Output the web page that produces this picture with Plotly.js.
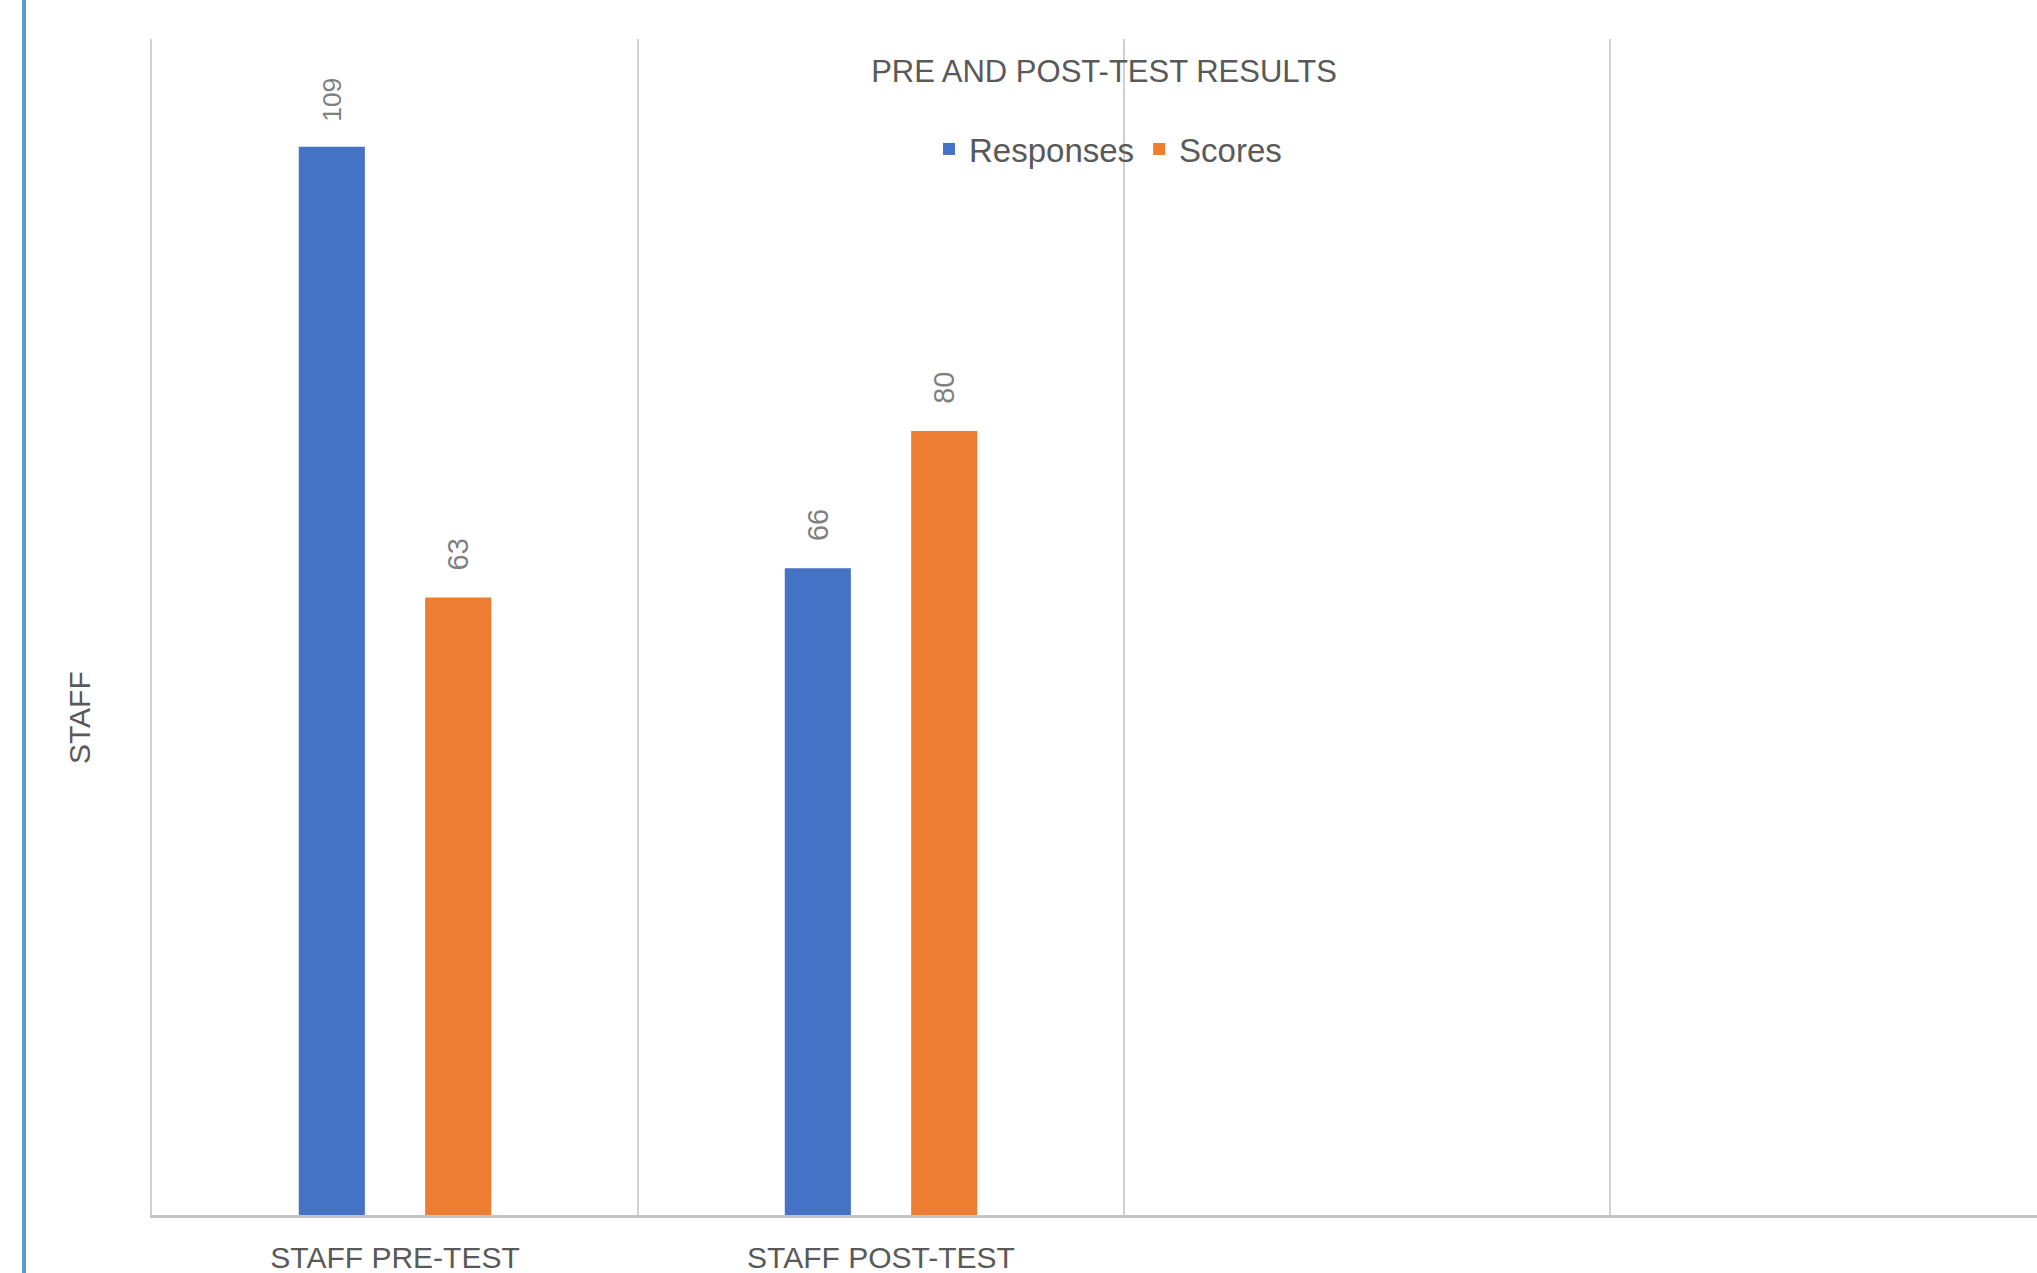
<!DOCTYPE html>
<html>
<head>
<meta charset="utf-8">
<script src="https://cdn.plot.ly/plotly-3.0.1.min.js"></script>
<style>
html,body{margin:0;padding:0;background:#fff;overflow:hidden;}
#chart{width:2037px;height:1273px;}
</style>
</head>
<body>
<div id="chart"></div>
<script>
const categories = ["STAFF PRE-TEST", "STAFF POST-TEST"];
const emptyCategories = [" ", "  "];
const seriesNames = ["Responses", "Scores"];
const responses = [109, 66];
const scores = [63, 80];
const chartTitle = "PRE AND POST-TEST RESULTS";
const yTitle = "STAFF";

const colors = ["#4472C4", "#ED7D31"];
const labelFont = {family: "Liberation Sans, Arial, sans-serif", size: 29, color: "#7f7f7f"};
const pad = "\u00a0\u00a0\u00a0";

function barTrace(name, values, color) {
  return {
    type: "bar",
    name: name,
    x: categories,
    y: values,
    marker: {color: color},
    text: values.map(v => pad + v),
    textposition: "outside",
    textangle: -90,
    textfont: labelFont,
    cliponaxis: false,
    hoverinfo: "x+y+name"
  };
}

const data = [
  barTrace(seriesNames[0], responses, colors[0]),
  barTrace(seriesNames[1], scores, colors[1])
];

const W = 2037, H = 1273;
const mL = 152, mR = 0, mT = 39, mB = 58;
const plotW = W - mL - mR, plotH = H - mT - mB;
const catWidthPx = 486;
const xMax = -0.5 + plotW / catWidthPx;

const layout = {
  width: W,
  height: H,
  margin: {l: mL, r: mR, t: mT, b: mB, pad: 0, autoexpand: false},
  paper_bgcolor: "#ffffff",
  plot_bgcolor: "#ffffff",
  font: {family: "Liberation Sans, Arial, sans-serif", color: "#595959"},
  barmode: "group",
  bargap: 0.48,
  bargroupgap: 0.477,
  showlegend: true,
  title: {
    text: chartTitle,
    font: {size: 31, color: "#595959"},
    x: 1104 / W,
    xref: "container",
    xanchor: "center",
    y: 1 - 71 / H,
    yref: "container",
    yanchor: "middle"
  },
  legend: {
    orientation: "h",
    xref: "container",
    yref: "container",
    x: 1108 / W,
    xanchor: "center",
    y: 1 - 149 / H,
    yanchor: "middle",
    font: {size: 33, color: "#595959"},
    bgcolor: "rgba(0,0,0,0)"
  },
  xaxis: {
    type: "category",
    categoryorder: "array",
    categoryarray: categories.concat(emptyCategories),
    range: [-0.5, xMax],
    tickson: "boundaries",
    showgrid: true,
    gridcolor: "#d0d0d0",
    gridwidth: 2,
    showline: true,
    linecolor: "#c4c4c4",
    linewidth: 3,
    ticks: "",
    ticklabelstandoff: 14,
    tickfont: {size: 30, color: "#595959"},
    fixedrange: true
  },
  yaxis: {
    range: [0, 120],
    showgrid: false,
    zeroline: false,
    showline: true,
    linecolor: "#d0d0d0",
    linewidth: 2,
    showticklabels: false,
    ticks: "",
    fixedrange: true
  },
  annotations: [{
    text: yTitle,
    textangle: -90,
    xref: "paper",
    yref: "paper",
    x: (80 - mL) / plotW,
    y: (H - mB - 718) / plotH,
    xanchor: "center",
    yanchor: "middle",
    showarrow: false,
    font: {size: 30, color: "#595959"}
  }],
  shapes: [{
    type: "line",
    xref: "paper",
    yref: "paper",
    x0: (24 - mL) / plotW,
    x1: (24 - mL) / plotW,
    y0: -1,
    y1: 2,
    line: {color: "#5B9BD5", width: 4}
  }]
};

Plotly.newPlot("chart", data, layout, {displayModeBar: false, staticPlot: true});
</script>
</body>
</html>
